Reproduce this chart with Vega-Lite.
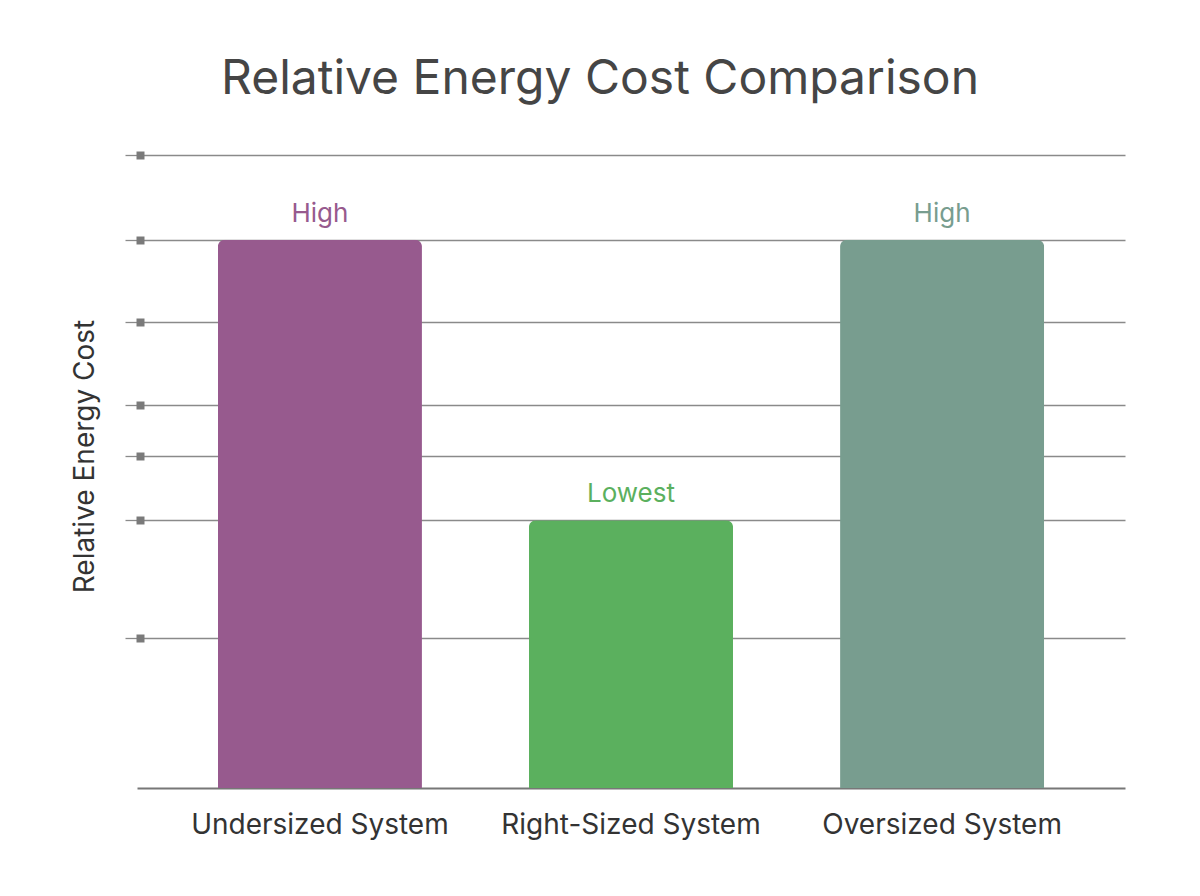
{
  "$schema": "https://vega.github.io/schema/vega-lite/v6.json",
  "width": 988,
  "height": 633,
  "autosize": "none",
  "padding": {"left": 137, "top": 155, "right": 75, "bottom": 108},
  "background": "white",
  "title": {
    "text": "Relative Energy Cost Comparison",
    "font": "Inter",
    "fontSize": 48,
    "fontWeight": 400,
    "color": "#454545",
    "anchor": "middle",
    "frame": "group",
    "baseline": "alphabetic",
    "offset": 9,
    "dx": -31
  },
  "data": {
    "values": [
      {"system": "Undersized System", "cost": 86.6, "label": "High"},
      {"system": "Right-Sized System", "cost": 42.3, "label": "Lowest"},
      {"system": "Oversized System", "cost": 86.6, "label": "High"}
    ]
  },
  "encoding": {
    "x": {
      "field": "system",
      "type": "nominal",
      "sort": null,
      "scale": {"paddingInner": 0.344, "paddingOuter": 0.26},
      "axis": {
        "title": null,
        "labelAngle": 0,
        "labelFont": "Inter",
        "labelFontSize": 28,
        "labelColor": "#333333",
        "labelBaseline": "alphabetic",
        "labelPadding": 45,
        "labelDx": -5,
        "labelLimit": 0,
        "ticks": false,
        "grid": false,
        "domain": true,
        "domainColor": "#777777",
        "domainWidth": 2
      }
    },
    "color": {
      "field": "system",
      "type": "nominal",
      "scale": {
        "domain": ["Undersized System", "Right-Sized System", "Oversized System"],
        "range": ["#975A8E", "#5BB05E", "#789D8F"]
      },
      "legend": null
    }
  },
  "layer": [
    {
      "mark": {"type": "bar", "cornerRadiusTopLeft": 7, "cornerRadiusTopRight": 7},
      "encoding": {
        "y": {
          "field": "cost",
          "type": "quantitative",
          "scale": {"domain": [0, 100]},
          "axis": {
            "values": [23.7, 42.3, 52.4, 60.5, 73.6, 86.6, 100],
            "orient": "left",
            "labels": false,
            "domain": false,
            "grid": true,
            "gridColor": "#8a8a8a",
            "gridWidth": 1.3,
            "ticks": true,
            "tickSize": 12,
            "tickColor": "#8a8a8a",
            "tickWidth": 1.3,
            "title": "Relative Energy Cost",
            "titleFont": "Inter",
            "titleFontSize": 28,
            "titleFontWeight": 400,
            "titleColor": "#333333",
            "titleAngle": -90,
            "titleBaseline": "alphabetic",
            "titleAlign": "center",
            "titleX": -44,
            "titleY": 301
          }
        }
      }
    },
    {
      "mark": {"type": "text", "baseline": "alphabetic", "dy": -18, "font": "Inter", "fontSize": 26},
      "encoding": {
        "text": {"field": "label"},
        "y": {
          "field": "cost",
          "type": "quantitative",
          "axis": {
            "values": [23.7, 42.3, 52.4, 60.5, 73.6, 86.6, 100],
            "orient": "left",
            "offset": -7,
            "labels": false,
            "domain": false,
            "grid": false,
            "ticks": true,
            "tickSize": 8,
            "tickWidth": 8,
            "tickCap": "butt",
            "tickColor": "#7a7a7a",
            "title": null,
            "zindex": 1
          }
        }
      }
    }
  ],
  "resolve": {"axis": {"y": "independent"}},
  "config": {"view": {"stroke": null}}
}
